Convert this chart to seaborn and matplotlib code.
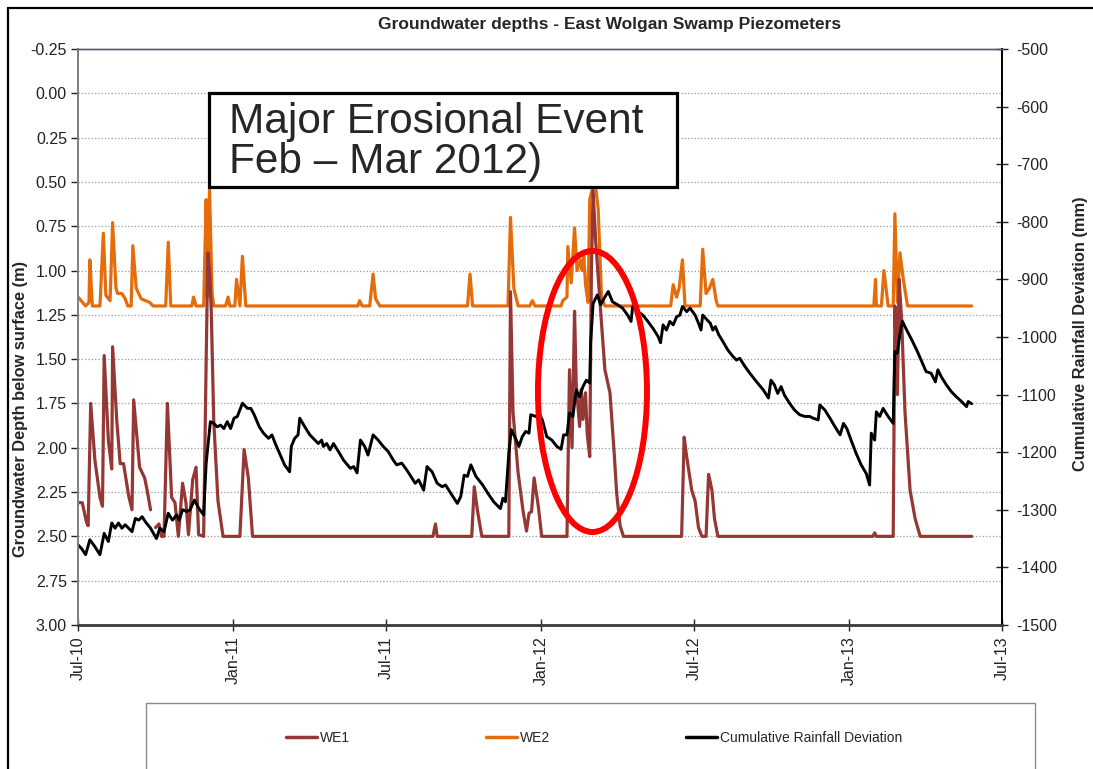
import numpy as np
import pandas as pd
import matplotlib
matplotlib.use('Agg')
import matplotlib.pyplot as plt
import matplotlib.dates as mdates
from matplotlib.patches import Ellipse, Rectangle
from matplotlib.lines import Line2D
from matplotlib.ticker import FormatStrFormatter
import seaborn as sns

# ---- data ----
we2_dates = [
    '2010-07-01', '2010-07-10', '2010-07-14', '2010-07-15', '2010-07-18', '2010-07-27',
    '2010-07-31', '2010-08-03', '2010-08-08', '2010-08-11', '2010-08-15', '2010-08-17',
    '2010-08-22', '2010-08-26', '2010-08-29', '2010-09-02', '2010-09-04', '2010-09-08',
    '2010-09-14', '2010-09-24', '2010-09-28', '2010-10-13', '2010-10-16', '2010-10-19',
    '2010-11-13', '2010-11-15', '2010-11-18', '2010-11-27', '2010-11-30', '2010-12-01',
    '2010-12-04', '2010-12-07', '2010-12-09', '2010-12-23', '2010-12-26', '2010-12-28',
    '2011-01-03', '2011-01-05', '2011-01-09', '2011-01-12', '2011-01-16', '2011-05-29',
    '2011-05-31', '2011-06-03', '2011-06-12', '2011-06-16', '2011-06-19', '2011-06-24',
    '2011-10-06', '2011-10-09', '2011-10-12', '2011-11-23', '2011-11-26', '2011-11-30',
    '2011-12-05', '2011-12-19', '2011-12-22', '2011-12-25', '2012-01-25', '2012-01-27',
    '2012-02-01', '2012-02-02', '2012-02-06', '2012-02-10', '2012-02-13', '2012-02-17',
    '2012-02-19', '2012-02-21', '2012-02-23', '2012-02-26', '2012-02-28', '2012-03-03',
    '2012-03-06', '2012-03-09', '2012-03-13', '2012-03-17', '2012-06-03', '2012-06-06',
    '2012-06-10', '2012-06-13', '2012-06-17', '2012-06-20', '2012-07-08', '2012-07-11',
    '2012-07-15', '2012-07-19', '2012-07-23', '2012-07-27', '2012-07-29', '2013-01-30',
    '2013-02-01', '2013-02-02', '2013-02-08', '2013-02-11', '2013-02-16', '2013-02-22',
    '2013-02-24', '2013-02-27', '2013-03-02', '2013-03-06', '2013-03-11', '2013-05-26',
]
we2_depth = [
    1.15, 1.20, 1.18, 0.94, 1.20, 1.20,
    0.79, 1.14, 1.17, 0.73, 1.10, 1.13,
    1.13, 1.16, 1.20, 1.20, 0.86, 1.10,
    1.16, 1.18, 1.20, 1.20, 0.84, 1.20,
    1.20, 1.15, 1.20, 1.20, 0.60, 1.15,
    0.545, 1.13, 1.20, 1.20, 1.15, 1.20,
    1.20, 1.05, 1.20, 0.92, 1.20, 1.20,
    1.17, 1.20, 1.20, 1.02, 1.16, 1.20,
    1.20, 1.02, 1.20, 1.20, 0.70, 1.10,
    1.20, 1.20, 1.17, 1.20, 1.20, 1.17,
    1.15, 0.865, 1.07, 0.76, 1.00, 0.94,
    1.00, 0.92, 1.08, 1.18, 0.60, 0.52,
    0.53, 0.65, 1.15, 1.20, 1.20, 1.08,
    1.15, 1.10, 0.94, 1.20, 1.20, 0.88,
    1.13, 1.10, 1.05, 1.17, 1.20, 1.20,
    1.05, 1.20, 1.20, 1.00, 1.20, 1.20,
    0.68, 1.18, 0.90, 1.05, 1.20, 1.20,
]

we1_dates = [
    '2010-07-01', '2010-07-06', '2010-07-11', '2010-07-13', '2010-07-16', '2010-07-21',
    '2010-07-27', '2010-07-30', '2010-08-01', '2010-08-06', '2010-08-10', '2010-08-11',
    '2010-08-16', '2010-08-20', '2010-08-24', '2010-08-30', '2010-09-03', '2010-09-05',
    '2010-09-12', '2010-09-18', '2010-09-21', '2010-09-25', '2010-09-28', '2010-10-01',
    '2010-10-05', '2010-10-08', '2010-10-11', '2010-10-15', '2010-10-20', '2010-10-24',
    '2010-10-28', '2010-11-02', '2010-11-06', '2010-11-09', '2010-11-14', '2010-11-18',
    '2010-11-21', '2010-11-27', '2010-11-30', '2010-12-02', '2010-12-04', '2010-12-06',
    '2010-12-09', '2010-12-14', '2010-12-20', '2011-01-09', '2011-01-14', '2011-01-19',
    '2011-01-24', '2011-08-26', '2011-08-29', '2011-08-31', '2011-10-11', '2011-10-14',
    '2011-10-18', '2011-10-23', '2011-11-24', '2011-11-26', '2011-11-29', '2011-12-05',
    '2011-12-11', '2011-12-15', '2011-12-18', '2011-12-21', '2011-12-24', '2011-12-29',
    '2012-01-02', '2012-02-01', '2012-02-04', '2012-02-07', '2012-02-10', '2012-02-12',
    '2012-02-16', '2012-02-18', '2012-02-20', '2012-02-23', '2012-02-25', '2012-02-28',
    '2012-03-01', '2012-03-03', '2012-03-06', '2012-03-13', '2012-03-17', '2012-03-23',
    '2012-03-28', '2012-03-31', '2012-04-04', '2012-04-08', '2012-06-16', '2012-06-19',
    '2012-06-22', '2012-06-28', '2012-07-02', '2012-07-06', '2012-07-10', '2012-07-15',
    '2012-07-18', '2012-07-22', '2012-07-25', '2012-07-29', '2013-01-29', '2013-01-31',
    '2013-02-02', '2013-02-22', '2013-02-24', '2013-02-27', '2013-03-01', '2013-03-04',
    '2013-03-08', '2013-03-14', '2013-03-20', '2013-03-26', '2013-05-26',
]
we1_depth = [
    2.31, 2.31, 2.42, 2.44, 1.75, 2.07,
    2.28, 2.33, 1.48, 1.96, 2.12, 1.43,
    1.85, 2.09, 2.09, 2.27, 2.35, 1.73,
    2.11, 2.17, 2.24, 2.35, np.nan, 2.45,
    2.43, 2.50, 2.50, 1.75, 2.28, 2.31,
    2.50, 2.20, 2.31, 2.49, 2.18, 2.11,
    2.49, 2.50, 1.50, 0.90, 1.00, 1.22,
    1.85, 2.30, 2.50, 2.50, 2.01, 2.17,
    2.50, 2.50, 2.43, 2.50, 2.50, 2.22,
    2.36, 2.50, 2.50, 1.12, 1.80, 2.14,
    2.36, 2.47, 2.37, 2.36, 2.17, 2.33,
    2.50, 2.50, 1.56, 2.00, 1.23, 1.65,
    1.88, 1.67, 1.84, 1.69, 1.92, 2.05,
    1.00, 0.55, 0.83, 1.30, 1.56, 1.69,
    2.03, 2.26, 2.44, 2.50, 2.50, 1.94,
    2.05, 2.24, 2.30, 2.45, 2.50, 2.50,
    2.15, 2.24, 2.40, 2.50, 2.50, 2.48,
    2.50, 2.50, 1.20, 1.70, 1.05, 1.28,
    1.80, 2.24, 2.40, 2.50, 2.50,
]

rain_dates = [
    '2010-07-01', '2010-07-05', '2010-07-10', '2010-07-15', '2010-07-21', '2010-07-27',
    '2010-08-01', '2010-08-06', '2010-08-10', '2010-08-14', '2010-08-18', '2010-08-22',
    '2010-08-26', '2010-08-30', '2010-09-03', '2010-09-07', '2010-09-11', '2010-09-15',
    '2010-09-19', '2010-09-25', '2010-10-02', '2010-10-06', '2010-10-11', '2010-10-16',
    '2010-10-21', '2010-10-26', '2010-10-29', '2010-11-02', '2010-11-07', '2010-11-11',
    '2010-11-16', '2010-11-21', '2010-11-27', '2010-11-30', '2010-12-05', '2010-12-09',
    '2010-12-13', '2010-12-17', '2010-12-21', '2010-12-25', '2010-12-29', '2011-01-02',
    '2011-01-06', '2011-01-12', '2011-01-18', '2011-01-22', '2011-01-26', '2011-02-01',
    '2011-02-06', '2011-02-12', '2011-02-16', '2011-02-20', '2011-02-26', '2011-03-03',
    '2011-03-09', '2011-03-11', '2011-03-15', '2011-03-19', '2011-03-21', '2011-03-27',
    '2011-04-02', '2011-04-08', '2011-04-12', '2011-04-16', '2011-04-18', '2011-04-22',
    '2011-04-26', '2011-04-30', '2011-05-06', '2011-05-12', '2011-05-20', '2011-05-24',
    '2011-05-28', '2011-06-01', '2011-06-06', '2011-06-10', '2011-06-16', '2011-06-22',
    '2011-06-28', '2011-07-04', '2011-07-10', '2011-07-14', '2011-07-20', '2011-07-26',
    '2011-08-01', '2011-08-05', '2011-08-09', '2011-08-15', '2011-08-19', '2011-08-25',
    '2011-08-31', '2011-09-06', '2011-09-10', '2011-09-16', '2011-09-24', '2011-09-28',
    '2011-10-02', '2011-10-06', '2011-10-10', '2011-10-16', '2011-10-24', '2011-10-30',
    '2011-11-06', '2011-11-10', '2011-11-14', '2011-11-17', '2011-11-20', '2011-11-24',
    '2011-11-27', '2011-12-02', '2011-12-06', '2011-12-10', '2011-12-14', '2011-12-18',
    '2011-12-20', '2011-12-26', '2011-12-30', '2012-01-03', '2012-01-08', '2012-01-14',
    '2012-01-20', '2012-01-25', '2012-01-28', '2012-02-01', '2012-02-04', '2012-02-08',
    '2012-02-12', '2012-02-16', '2012-02-20', '2012-02-24', '2012-02-28', '2012-02-29',
    '2012-03-03', '2012-03-08', '2012-03-12', '2012-03-16', '2012-03-21', '2012-03-26',
    '2012-04-01', '2012-04-07', '2012-04-13', '2012-04-17', '2012-04-19', '2012-04-25',
    '2012-05-01', '2012-05-07', '2012-05-13', '2012-05-19', '2012-05-22', '2012-05-25',
    '2012-05-29', '2012-06-02', '2012-06-06', '2012-06-10', '2012-06-14', '2012-06-17',
    '2012-06-22', '2012-06-26', '2012-07-02', '2012-07-06', '2012-07-09', '2012-07-11',
    '2012-07-16', '2012-07-20', '2012-07-23', '2012-07-26', '2012-07-30', '2012-08-04',
    '2012-08-10', '2012-08-16', '2012-08-20', '2012-08-24', '2012-08-30', '2012-09-05',
    '2012-09-13', '2012-09-21', '2012-09-27', '2012-09-30', '2012-10-04', '2012-10-08',
    '2012-10-12', '2012-10-16', '2012-10-22', '2012-10-28', '2012-11-03', '2012-11-09',
    '2012-11-15', '2012-11-19', '2012-11-25', '2012-11-27', '2012-12-03', '2012-12-09',
    '2012-12-15', '2012-12-21', '2012-12-25', '2012-12-29', '2013-01-03', '2013-01-09',
    '2013-01-15', '2013-01-21', '2013-01-25', '2013-01-27', '2013-01-31', '2013-02-02',
    '2013-02-06', '2013-02-10', '2013-02-16', '2013-02-22', '2013-02-24', '2013-02-27',
    '2013-03-02', '2013-03-05', '2013-03-10', '2013-03-16', '2013-03-22', '2013-03-28',
    '2013-04-02', '2013-04-08', '2013-04-13', '2013-04-16', '2013-04-20', '2013-04-26',
    '2013-05-02', '2013-05-08', '2013-05-14', '2013-05-20', '2013-05-22', '2013-05-26',
]
rain_dev = [
    -1361, -1367, -1378, -1352, -1364, -1378,
    -1341, -1355, -1323, -1332, -1323, -1332,
    -1326, -1332, -1338, -1315, -1318, -1312,
    -1321, -1332, -1350, -1332, -1338, -1306,
    -1318, -1309, -1318, -1300, -1303, -1300,
    -1283, -1297, -1309, -1219, -1147, -1150,
    -1156, -1153, -1159, -1147, -1159, -1141,
    -1138, -1115, -1124, -1124, -1135, -1156,
    -1167, -1176, -1170, -1185, -1205, -1222,
    -1234, -1190, -1176, -1170, -1141, -1156,
    -1170, -1179, -1185, -1179, -1190, -1185,
    -1196, -1185, -1199, -1214, -1228, -1225,
    -1236, -1179, -1190, -1205, -1170, -1179,
    -1190, -1199, -1214, -1222, -1219, -1231,
    -1245, -1254, -1248, -1266, -1225, -1234,
    -1254, -1260, -1257, -1271, -1289, -1277,
    -1240, -1242, -1222, -1242, -1257, -1271,
    -1286, -1292, -1298, -1280, -1286, -1202,
    -1161, -1176, -1190, -1173, -1164, -1167,
    -1135, -1138, -1132, -1145, -1173, -1179,
    -1190, -1195, -1170, -1170, -1132, -1138,
    -1092, -1104, -1086, -1075, -1080, -1011,
    -942, -927, -944, -933, -921, -939,
    -944, -950, -962, -973, -947, -956,
    -962, -973, -985, -999, -1010, -979,
    -988, -973, -979, -965, -962, -947,
    -956, -950, -962, -976, -988, -962,
    -970, -976, -988, -982, -996, -1008,
    -1023, -1034, -1040, -1037, -1051, -1063,
    -1078, -1092, -1106, -1075, -1083, -1098,
    -1086, -1101, -1115, -1127, -1135, -1138,
    -1138, -1141, -1144, -1118, -1127, -1141,
    -1156, -1170, -1150, -1159, -1179, -1202,
    -1222, -1237, -1257, -1167, -1179, -1130,
    -1138, -1124, -1138, -1150, -1025, -1028,
    -994, -973, -988, -1005, -1023, -1043,
    -1060, -1063, -1078, -1057, -1069, -1083,
    -1095, -1104, -1112, -1121, -1112, -1116,
]

depth_ticks = np.arange(-0.25, 3.01, 0.25)
rain_ticks = np.arange(-1500, -499, 100)

WE1_COLOR = '#953735'
WE2_COLOR = '#E46C0A'
RAIN_COLOR = 'black'

sns.set_theme(style='white')
plt.rcParams['font.family'] = ['Liberation Sans', 'DejaVu Sans']
plt.rcParams['axes.unicode_minus'] = False

we1 = pd.DataFrame({'date': pd.to_datetime(we1_dates), 'depth': we1_depth})
we1['segment'] = we1['depth'].isna().cumsum()
we1 = we1.dropna()
we2 = pd.DataFrame({'date': pd.to_datetime(we2_dates), 'depth': we2_depth})
rain = pd.DataFrame({'date': pd.to_datetime(rain_dates), 'dev': rain_dev})

fig = plt.figure(figsize=(10.93, 7.69), dpi=100)
ax = fig.add_axes([0.0714, 0.1873, 0.8453, 0.749])
ax2 = ax.twinx()

sns.lineplot(data=we2, x='date', y='depth', ax=ax, color=WE2_COLOR, lw=2.3, estimator=None)
sns.lineplot(data=we1, x='date', y='depth', units='segment', ax=ax, color=WE1_COLOR,
             lw=2.3, estimator=None)
sns.lineplot(data=rain, x='date', y='dev', ax=ax2, color=RAIN_COLOR, lw=2.1, estimator=None)

# axes limits / ticks
ax.set_xlim(pd.Timestamp('2010-07-01'), pd.Timestamp('2013-07-01'))
ax.set_ylim(3.0, -0.25)
ax.set_yticks(depth_ticks)
ax.yaxis.set_major_formatter(FormatStrFormatter('%.2f'))
ax2.set_ylim(-1500, -500)
ax2.set_yticks(rain_ticks)
ax.xaxis.set_major_locator(mdates.MonthLocator(bymonth=[1, 7]))
ax.xaxis.set_major_formatter(mdates.DateFormatter('%b-%y'))
for lbl in ax.get_xticklabels():
    lbl.set_rotation(90)

ax.set_xlabel('')
ax.set_ylabel('')
ax2.set_ylabel('')

ax.yaxis.grid(True, linestyle=':', color='#9a9a9a', lw=0.9)
ax.xaxis.grid(False)
ax2.grid(False)

ax.tick_params(axis='y', direction='out', length=5, width=1, labelsize=11.5, colors='#222222',
               left=True, pad=3)
ax.tick_params(axis='x', direction='inout', length=8, width=1, labelsize=11.5,
               colors='#222222', bottom=True, pad=4)
ax2.tick_params(axis='y', direction='inout', length=8, width=1, labelsize=11.5,
                colors='#222222', right=True, pad=6)

for a in (ax, ax2):
    a.spines['left'].set_color('#808080')
    a.spines['left'].set_linewidth(1.3)
    a.spines['bottom'].set_color('#404040')
    a.spines['bottom'].set_linewidth(1.8)
    a.spines['right'].set_color('black')
    a.spines['right'].set_linewidth(1.3)
    a.spines['top'].set_color('#5a5a6a')
    a.spines['top'].set_linewidth(1.0)

# red ellipse around the erosional event
ax2.add_patch(Ellipse((0.5568, 0.4054), 0.118, 0.488, transform=ax2.transAxes,
                      fill=False, edgecolor='#ff0000', lw=4.3, zorder=10))

# titles / axis labels
fig.text(0.558, 0.968, 'Groundwater depths - East Wolgan Swamp Piezometers',
         ha='center', va='center', fontsize=12.5, fontweight='bold')
fig.text(0.019, 0.468, 'Groundwater Depth below surface (m)', rotation=90,
         ha='center', va='center', fontsize=11.8, fontweight='bold')
fig.text(0.989, 0.566, 'Cumulative Rainfall Deviation (mm)', rotation=90,
         ha='center', va='center', fontsize=11.8, fontweight='bold')

# annotation box
fig.add_artist(Rectangle((0.1912, 0.7568), 0.4282, 0.1222, transform=fig.transFigure,
                         facecolor='white', edgecolor='black', lw=2.3, zorder=5))
fig.text(0.2095, 0.815, 'Major Erosional Event\nFeb \u2013 Mar 2012)', ha='left',
         va='center', fontsize=30.5, linespacing=1.0, zorder=6)

# legend
handles = [Line2D([], [], color=WE1_COLOR, lw=2.5),
           Line2D([], [], color=WE2_COLOR, lw=2.5),
           Line2D([], [], color=RAIN_COLOR, lw=2.5)]
fig.legend(handles, ['WE1', 'WE2', 'Cumulative Rainfall Deviation'], loc='center',
           bbox_to_anchor=(0.5435, 0.040), ncol=3, frameon=False, fontsize=10,
           handlelength=2.25, handletextpad=0.2, columnspacing=9.8)
fig.add_artist(Rectangle((146 / 1093, -0.05), (1035 - 146) / 1093, 0.1358,
                         transform=fig.transFigure, facecolor='none',
                         edgecolor='#8c8c8c', lw=1.0, zorder=1))

# outer chart frame
fig.add_artist(Line2D([8 / 1093, 1.0], [1 - 8 / 769] * 2, transform=fig.transFigure,
                      color='black', lw=1.6))
fig.add_artist(Line2D([8 / 1093] * 2, [0.0, 1 - 8 / 769], transform=fig.transFigure,
                      color='black', lw=1.6))

fig.savefig('out.png', dpi=100)
